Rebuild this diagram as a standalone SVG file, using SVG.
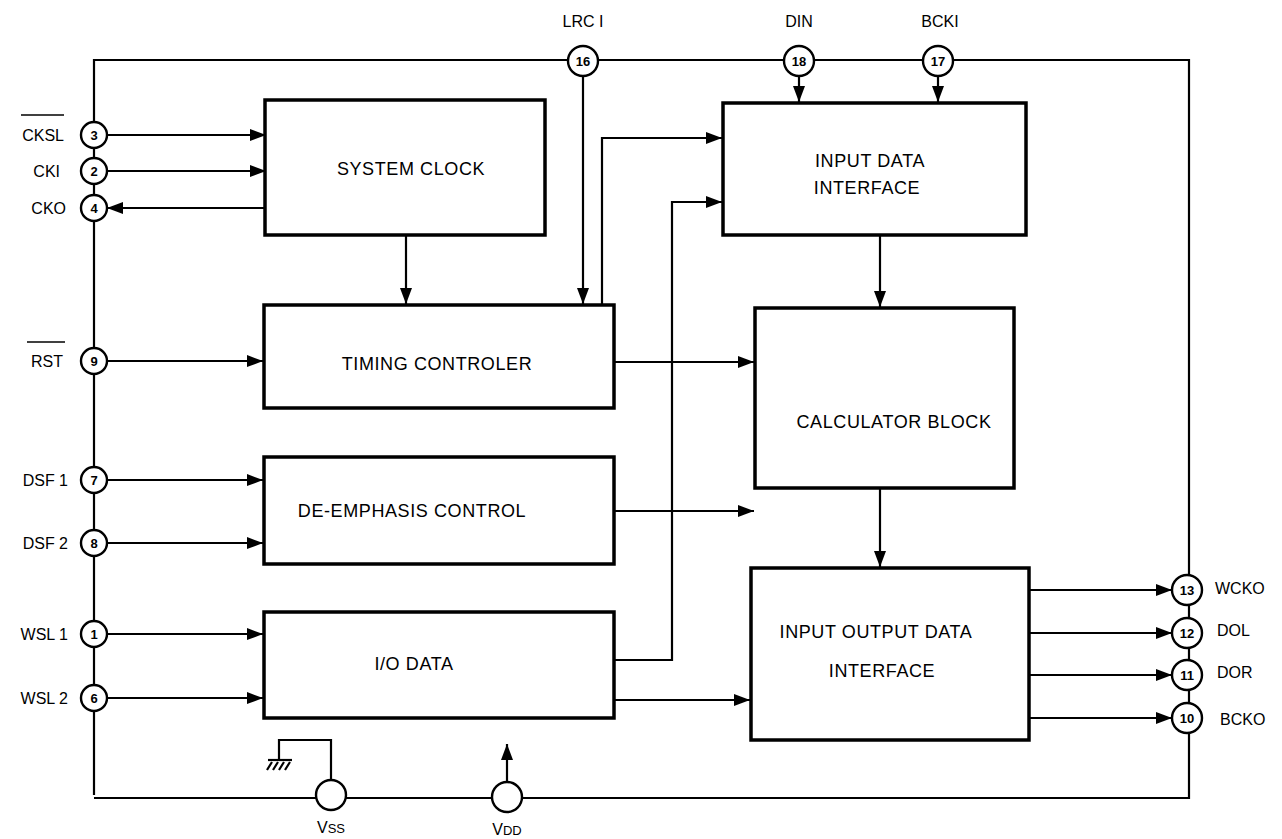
<svg xmlns="http://www.w3.org/2000/svg" width="1282" height="839" viewBox="0 0 1282 839">
<defs>
<marker id="ah" viewBox="0 0 16 12" refX="16" refY="6" markerWidth="16" markerHeight="12" markerUnits="userSpaceOnUse" orient="auto">
<path d="M0,0 L16,6 L0,12 Z" fill="#000"/>
</marker>
</defs>
<style>
.box{fill:#fff;stroke:#000;stroke-width:3.5}
.ln{fill:none;stroke:#000;stroke-width:2.2}
.ar{fill:none;stroke:#000;stroke-width:2.2;marker-end:url(#ah)}
.pin{fill:#fff;stroke:#000;stroke-width:2.4}
.pn{font-family:"Liberation Sans",Arial,sans-serif;font-size:13px;font-weight:bold;text-anchor:middle}
.lb{font-family:"Liberation Sans",Arial,sans-serif;font-size:16px}
.bt{font-family:"Liberation Sans",Arial,sans-serif;font-size:18px;letter-spacing:0.6px;text-anchor:middle}
</style>
<rect width="1282" height="839" fill="#fff"/>
<g id="bus">
<path class="ln" d="M94,795 V60 H1189 V798 H94"/>
</g>
<g id="connectors">
<path class="ar" d="M107,135 H266"/>
<path class="ar" d="M107,171 H266"/>
<path class="ar" d="M265,208 H107"/>
<path class="ar" d="M406,235 V304"/>
<path class="ar" d="M583,75 V304"/>
<path class="ar" d="M602,305 V138 H722"/>
<path class="ar" d="M613,660 H672 V202 H722"/>
<path class="ar" d="M614,362 H754"/>
<path class="ar" d="M614,511 H754"/>
<path class="ar" d="M614,700 H750"/>
<path class="ar" d="M880,235 V307"/>
<path class="ar" d="M880,488 V567"/>
<path class="ar" d="M799,75 V102"/>
<path class="ar" d="M938,75 V102"/>
<path class="ar" d="M107,361 H263"/>
<path class="ar" d="M107,480 H263"/>
<path class="ar" d="M107,543 H263"/>
<path class="ar" d="M107,634 H263"/>
<path class="ar" d="M107,698 H263"/>
<path class="ar" d="M1029,590 H1172"/>
<path class="ar" d="M1029,633 H1172"/>
<path class="ar" d="M1029,675 H1172"/>
<path class="ar" d="M1029,718 H1172"/>
<path class="ln" d="M331,781 V740 H279 V760"/>
<path class="ar" d="M507,782 V744"/>
</g>
<g id="ground">
<line class="ln" x1="268" y1="760" x2="292" y2="760"/>
<path class="ln" d="M272,762 L267,770 M278,762 L273,770 M284,762 L279,770 M290,762 L285,770" stroke-width="1.8"/>
</g>
<g id="system-clock"><rect class="box" x="265" y="100" width="280" height="135"/><text class="bt" x="411" y="175">SYSTEM CLOCK</text></g>
<g id="timing"><rect class="box" x="264" y="305" width="350" height="103"/><text class="bt" x="437" y="370">TIMING CONTROLER</text></g>
<g id="deemph"><rect class="box" x="264" y="457" width="350" height="107"/><text class="bt" x="412" y="517">DE-EMPHASIS CONTROL</text></g>
<g id="iodata"><rect class="box" x="264" y="612" width="350" height="106"/><text class="bt" x="414" y="670">I/O DATA</text></g>
<g id="input-data"><rect class="box" x="723" y="103" width="303" height="132"/><text class="bt" x="870" y="167">INPUT DATA</text><text class="bt" x="867" y="194">INTERFACE</text></g>
<g id="calc"><rect class="box" x="755" y="308" width="259" height="180"/><text class="bt" x="894" y="428">CALCULATOR BLOCK</text></g>
<g id="io-iface"><rect class="box" x="751" y="568" width="278" height="172"/><text class="bt" x="876" y="638">INPUT OUTPUT DATA</text><text class="bt" x="882" y="677">INTERFACE</text></g>
<g id="pin3"><circle class="pin" cx="94" cy="135" r="13"/><text class="pn" x="94" y="140">3</text><text class="lb" x="64" y="141" text-anchor="end">CKSL</text><line x1="21" y1="115" x2="64" y2="115" stroke="#000" stroke-width="1.5"/></g>
<g id="pin2"><circle class="pin" cx="94" cy="171" r="13"/><text class="pn" x="94" y="176">2</text><text class="lb" x="60" y="177" text-anchor="end">CKI</text></g>
<g id="pin4"><circle class="pin" cx="94" cy="208" r="13"/><text class="pn" x="94" y="213">4</text><text class="lb" x="66" y="214" text-anchor="end">CKO</text></g>
<g id="pin9"><circle class="pin" cx="94" cy="361" r="13"/><text class="pn" x="94" y="366">9</text><text class="lb" x="63" y="367" text-anchor="end">RST</text><line x1="27" y1="342" x2="65" y2="342" stroke="#000" stroke-width="1.5"/></g>
<g id="pin7"><circle class="pin" cx="94" cy="480" r="13"/><text class="pn" x="94" y="485">7</text><text class="lb" x="68" y="486" text-anchor="end">DSF 1</text></g>
<g id="pin8"><circle class="pin" cx="94" cy="543" r="13"/><text class="pn" x="94" y="548">8</text><text class="lb" x="68" y="549" text-anchor="end">DSF 2</text></g>
<g id="pin1"><circle class="pin" cx="94" cy="634" r="13"/><text class="pn" x="94" y="639">1</text><text class="lb" x="68" y="640" text-anchor="end">WSL 1</text></g>
<g id="pin6"><circle class="pin" cx="94" cy="698" r="13"/><text class="pn" x="94" y="703">6</text><text class="lb" x="68" y="704" text-anchor="end">WSL 2</text></g>
<g id="pin16"><circle class="pin" cx="583" cy="61" r="15"/><text class="pn" x="583" y="66">16</text><text class="lb" x="583" y="27" text-anchor="middle">LRC  I</text></g>
<g id="pin18"><circle class="pin" cx="799" cy="61" r="15"/><text class="pn" x="799" y="66">18</text><text class="lb" x="799" y="27" text-anchor="middle">DIN</text></g>
<g id="pin17"><circle class="pin" cx="938" cy="61" r="15"/><text class="pn" x="938" y="66">17</text><text class="lb" x="940" y="27" text-anchor="middle">BCKI</text></g>
<g id="pin13"><circle class="pin" cx="1187" cy="590" r="15"/><text class="pn" x="1187" y="595">13</text><text class="lb" x="1215" y="594">WCKO</text></g>
<g id="pin12"><circle class="pin" cx="1187" cy="633" r="15"/><text class="pn" x="1187" y="638">12</text><text class="lb" x="1217" y="636">DOL</text></g>
<g id="pin11"><circle class="pin" cx="1187" cy="675" r="15"/><text class="pn" x="1187" y="680">11</text><text class="lb" x="1217" y="678">DOR</text></g>
<g id="pin10"><circle class="pin" cx="1187" cy="718" r="15"/><text class="pn" x="1187" y="723">10</text><text class="lb" x="1220" y="725">BCKO</text></g>
<g id="vss"><circle class="pin" cx="331" cy="795" r="15"/><text class="lb" x="331" y="833" text-anchor="middle">V<tspan font-size="13">SS</tspan></text></g>
<g id="vdd"><circle class="pin" cx="507" cy="797" r="15"/><text class="lb" x="507" y="835" text-anchor="middle">V<tspan font-size="13">DD</tspan></text></g>
</svg>
